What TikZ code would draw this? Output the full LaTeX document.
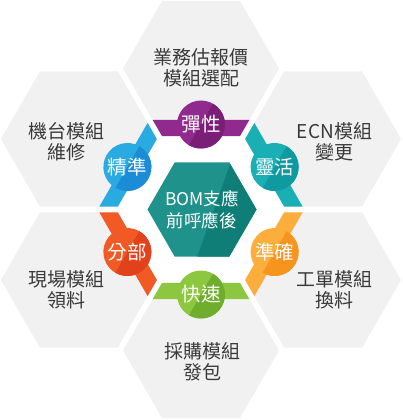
\documentclass[tikz,border=0pt]{standalone}
\usepackage{fontspec}
\newfontfamily\cjk{Noto Sans CJK TC}
\usetikzlibrary{calc}
\usepackage{xcolor}

\definecolor{cellgray}{HTML}{F1F1F1}
\definecolor{textgray}{HTML}{3A3A3A}
\definecolor{purpleL}{HTML}{912A8F}
\definecolor{purpleD}{HTML}{7A1E78}
\definecolor{tealL}{HTML}{19AFB5}
\definecolor{tealD}{HTML}{0E9AA0}
\definecolor{orangeL}{HTML}{FBAE3C}
\definecolor{orangeD}{HTML}{F7941D}
\definecolor{greenL}{HTML}{8DC63F}
\definecolor{greenD}{HTML}{6EAE2C}
\definecolor{redL}{HTML}{F15A24}
\definecolor{redD}{HTML}{E2421B}
\definecolor{blueL}{HTML}{29ABE2}
\definecolor{blueD}{HTML}{1C8CD6}
\definecolor{coreL}{HTML}{1F928B}
\definecolor{coreD}{HTML}{0E7E77}

\tikzset{
    celltext/.style={font=\cjk\fontsize{19}{21}\selectfont, text=textgray, align=center},
    badgetext/.style={circle, minimum size=48pt, inner sep=0pt, font=\cjk\fontsize{19.5}{21}\selectfont, text=white},
    coretext/.style={font=\cjk\fontsize{17.5}{21.5}\selectfont, text=white, align=center},
}

\begin{document}
\begin{tikzpicture}[x=1pt,y=1pt]
            \useasboundingbox (-201,-210.5) rectangle (202,209.5);
            % Draw the six outer cells, each with its coloured strip and badge
            \foreach \ang/\lite/\dark/\txt [count=\i] in {90/purpleL/purpleD/彈性, 30/tealL/tealD/靈活, -30/orangeL/orangeD/準確, -90/greenL/greenD/快速, -150/redL/redD/分部, 150/blueL/blueD/精準} {
                \begin{scope}[rotate={\ang-90}]
                    \fill[cellgray] (0,141) +(0:78) -- +(60:78) -- +(120:78) -- +(180:78) -- +(240:78) -- +(300:78) -- cycle;
                    \fill[\lite] (-39,73.45) -- (39,73.45) -- (48.3,89.5) -- (-48.3,89.5) -- cycle; % strip on the inner edge
                    \fill[\lite] (0,85) circle (24);
                    \begin{scope}[shift={(0,85)}, rotate={60-(\ang)}] % back to page axes, darker half
                        \clip (0,-30) rectangle (30,30);
                        \fill[\dark] (0,0) circle (24);
                    \end{scope}
                    \node[badgetext] (badge-\i) at (0,85) {\txt};
                \end{scope}
            }
            % Centre hexagon
            \fill[coreL] (1,0) +(0:54.5) -- +(60:54.5) -- +(120:54.5) -- +(180:54.5) -- +(240:54.5) -- +(300:54.5) -- cycle;
            \begin{scope}
                \clip (30,48) -- (-4,-48) -- (60,-48) -- (60,48) -- cycle;
                \fill[coreD] (1,0) +(0:54.5) -- +(60:54.5) -- +(120:54.5) -- +(180:54.5) -- +(240:54.5) -- +(300:54.5) -- cycle;
            \end{scope}
            \node[coretext] (core) at (1,0) {BOM支應\\前呼應後};
            % Cell labels
            \node[celltext] (cell-top) at (0,141.5) {業務估報價\\模組選配};
            \node[celltext] (cell-ur) at (133.5,68) {ECN模組\\變更};
            \node[celltext] (cell-lr) at (133.5,-80) {工單模組\\換料};
            \node[celltext] (cell-bot) at (1,-152.5) {採購模組\\發包};
            \node[celltext] (cell-ll) at (-134,-80) {現場模組\\領料};
            \node[celltext] (cell-ul) at (-134.5,68) {機台模組\\維修};
\end{tikzpicture}
\end{document}
